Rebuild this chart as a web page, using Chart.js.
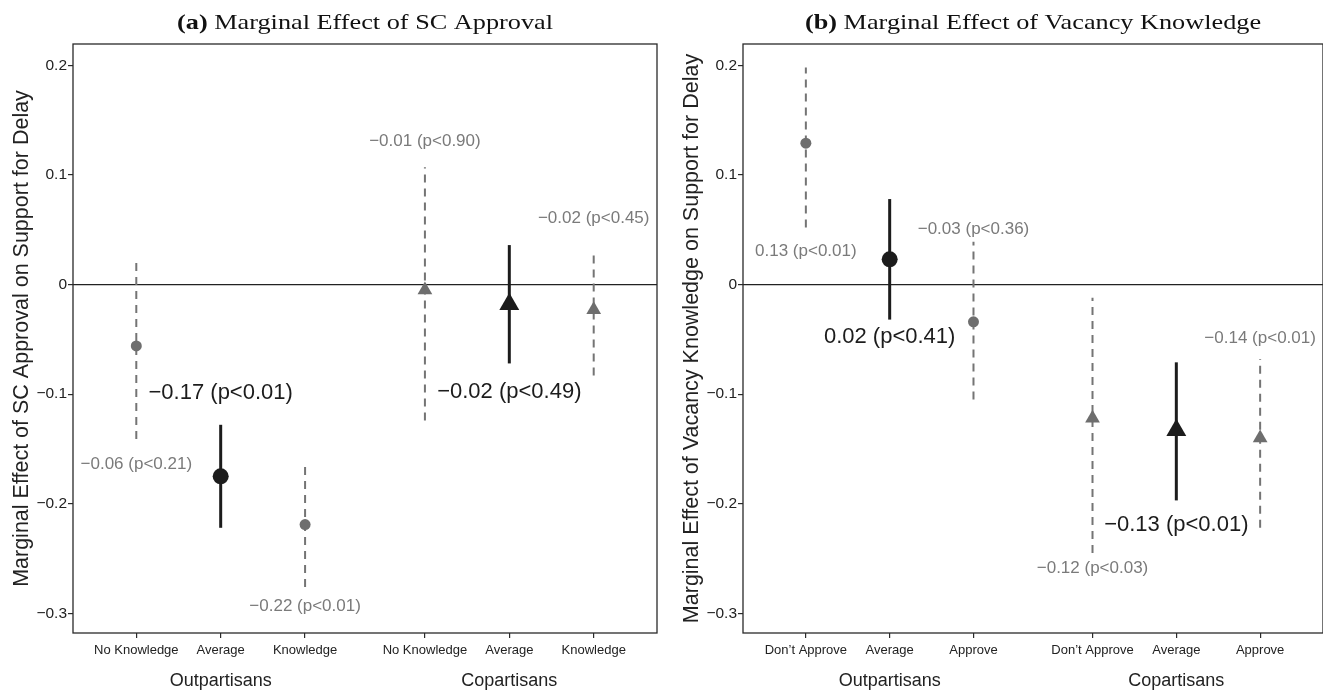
<!DOCTYPE html>
<html>
<head>
<meta charset="utf-8">
<script src="https://cdn.jsdelivr.net/npm/chart.js@4.4.1/dist/chart.umd.min.js"></script>
<style>
  html, body { margin: 0; padding: 0; background: #fff; }
  #wrapA { position: absolute; left: 0; top: 0; width: 660px; height: 699px; }
  #wrapB { position: absolute; left: 660px; top: 0; width: 663px; height: 699px; }
</style>
</head>
<body>
<div id="wrapA"><canvas id="chartA"></canvas></div>
<div id="wrapB"><canvas id="chartB"></canvas></div>
<script>
const groups = ['Outpartisans', 'Copartisans'];
const yTickValues = [-0.3, -0.2, -0.1, 0, 0.1, 0.2];

// (a) marginal effect of SC approval
const categoriesA = ['No Knowledge', 'Average', 'Knowledge', 'No Knowledge', 'Average', 'Knowledge'];
const estimateA = [-0.056, -0.175, -0.219, -0.005, -0.018, -0.023];
const lowerA = [-0.141, -0.222, -0.276, -0.124, -0.072, -0.083];
const upperA = [0.020, -0.128, -0.164, 0.107, 0.036, 0.027];
const notesA = ['−0.06 (p<0.21)', '−0.17 (p<0.01)', '−0.22 (p<0.01)', '−0.01 (p<0.90)', '−0.02 (p<0.49)', '−0.02 (p<0.45)'];
// where each note sits, in y units
const noteAtA = [-0.164, -0.099, -0.294, 0.131, -0.098, 0.060];

// (b) marginal effect of vacancy knowledge
const categoriesB = ['Don’t Approve', 'Average', 'Approve', 'Don’t Approve', 'Average', 'Approve'];
const estimateB = [0.129, 0.023, -0.034, -0.122, -0.133, -0.140];
const lowerB = [0.052, -0.032, -0.105, -0.245, -0.197, -0.222];
const upperB = [0.198, 0.078, 0.039, -0.012, -0.071, -0.068];
const notesB = ['0.13 (p<0.01)', '0.02 (p<0.41)', '−0.03 (p<0.36)', '−0.12 (p<0.03)', '−0.13 (p<0.01)', '−0.14 (p<0.01)'];
const noteAtB = [0.030, -0.048, 0.050, -0.259, -0.219, -0.049];

const SANS = "'Liberation Sans', Arial, Helvetica, sans-serif";
const SERIF = "'Liberation Serif', 'Times New Roman', serif";
const GRAY = '#747474';
const DARK = '#1c1c1c';
const AXIS = '#2a2a2a';
const GROUP_GAP = 0.42;

Chart.defaults.font.family = SANS;

const xPos = (i) => i + 1 + (i >= 3 ? GROUP_GAP : 0);
const isAverage = (i) => i % 3 === 1;

function fmt(v) {
  if (Math.abs(v) < 1e-9) return '0';
  return (v < 0 ? '−' : '') + Math.abs(v).toFixed(1);
}

function buildDatasets(est, lo, hi) {
  const out = [];
  est.forEach((v, i) => {
    const avg = isAverage(i);
    const x = xPos(i);
    out.push({
      type: 'line',
      data: [{ x: x, y: lo[i] }, { x: x, y: hi[i] }],
      borderColor: avg ? DARK : GRAY,
      borderWidth: avg ? 3 : 2,
      borderDash: avg ? [] : [8, 6],
      pointRadius: 0,
      order: 2,
    });
    const tri = i >= 3;
    out.push({
      type: 'scatter',
      data: [{ x: x, y: v }],
      pointStyle: tri ? 'triangle' : 'circle',
      pointRadius: tri ? (avg ? 11.5 : 8.5) : (avg ? 8 : 5.5),
      backgroundColor: avg ? DARK : '#6e6e6e',
      borderWidth: 0,
      order: 1,
    });
  });
  return out;
}

const frame = {
  id: 'frame',
  beforeDatasetsDraw(chart) {
    const { ctx, chartArea: a } = chart;
    ctx.save();
    ctx.strokeStyle = AXIS;
    ctx.lineWidth = 1.3;
    ctx.strokeRect(a.left, a.top, a.right - a.left, a.bottom - a.top);
    ctx.restore();
  },
};

const panelTitle = {
  id: 'panelTitle',
  afterDraw(chart, args, o) {
    const { ctx, chartArea: a } = chart;
    ctx.save();
    ctx.translate((a.left + a.right) / 2, 29);
    ctx.scale(1.25, 1);
    ctx.fillStyle = '#111';
    ctx.textBaseline = 'alphabetic';
    ctx.textAlign = 'left';
    ctx.font = 'bold 21px ' + SERIF;
    const w1 = ctx.measureText(o.tag).width;
    ctx.font = '21px ' + SERIF;
    const w2 = ctx.measureText(o.text).width;
    const x0 = -(w1 + w2) / 2;
    ctx.font = 'bold 21px ' + SERIF;
    ctx.fillText(o.tag, x0, 0);
    ctx.font = '21px ' + SERIF;
    ctx.fillText(o.text, x0 + w1, 0);
    ctx.restore();
  },
};

const notes = {
  id: 'notes',
  afterDatasetsDraw(chart, args, o) {
    const { ctx, scales } = chart;
    ctx.save();
    ctx.textAlign = 'center';
    ctx.textBaseline = 'middle';
    o.texts.forEach((t, i) => {
      const avg = isAverage(i);
      ctx.font = (avg ? '22px ' : '17px ') + SANS;
      ctx.fillStyle = avg ? DARK : '#7a7a7a';
      ctx.fillText(t, scales.x.getPixelForValue(xPos(i)), scales.y.getPixelForValue(o.at[i]));
    });
    ctx.restore();
  },
};

function makeChart(id, cfg) {
  const xMin = 0.25, xMax = 7.17;
  return new Chart(document.getElementById(id), {
    data: { datasets: buildDatasets(cfg.est, cfg.lo, cfg.hi) },
    plugins: [frame, panelTitle, notes],
    options: {
      responsive: true,
      maintainAspectRatio: false,
      animation: false,
      events: [],
      layout: {
        autoPadding: false,
        padding: { top: 44, right: cfg.padRight, left: 0, bottom: 0 },
      },
      plugins: {
        legend: { display: false },
        tooltip: { enabled: false },
        panelTitle: { tag: cfg.tag, text: cfg.title },
        notes: { texts: cfg.notes, at: cfg.noteAt },
      },
      scales: {
        x: {
          type: 'linear',
          position: 'bottom',
          weight: 0,
          min: xMin,
          max: xMax,
          afterBuildTicks: (s) => { s.ticks = cfg.cats.map((c, i) => ({ value: xPos(i) })); },
          afterFit: (s) => { s.height = 30; },
          ticks: {
            callback: (v, i) => cfg.cats[i],
            font: { size: 13 },
            color: '#222',
            padding: 5,
            maxRotation: 0,
            autoSkip: false,
          },
          grid: { drawOnChartArea: false, drawTicks: true, tickLength: 5, color: AXIS, lineWidth: 1.2 },
          border: { display: false },
        },
        x2: {
          type: 'linear',
          position: 'bottom',
          weight: 1,
          min: xMin,
          max: xMax,
          afterBuildTicks: (s) => { s.ticks = groups.map((g, k) => ({ value: xPos(3 * k + 1) })); },
          afterFit: (s) => { s.height = 36; },
          ticks: {
            callback: (v, i) => groups[i],
            font: { size: 18 },
            color: '#222',
            padding: 7,
            maxRotation: 0,
            autoSkip: false,
          },
          grid: { display: false, drawTicks: false },
          border: { display: false },
        },
        y: {
          type: 'linear',
          min: -0.318,
          max: 0.2195,
          afterBuildTicks: (s) => { s.ticks = yTickValues.map((v) => ({ value: v })); },
          afterFit: (s) => { s.width = cfg.yWidth; },
          ticks: {
            callback: (v) => fmt(v),
            font: { size: 15.5 },
            color: '#222',
            padding: 1,
          },
          grid: {
            color: (c) => (c.tick && Math.abs(c.tick.value) < 1e-9 ? '#222' : 'rgba(0,0,0,0)'),
            tickColor: AXIS,
            tickLength: 5,
            lineWidth: 1.2,
          },
          border: { display: false },
          title: {
            display: true,
            text: cfg.yTitle,
            font: { size: 21.5 },
            color: '#222',
            padding: { top: cfg.titlePad, bottom: 0 },
          },
        },
      },
    },
  });
}

makeChart('chartA', {
  cats: categoriesA, est: estimateA, lo: lowerA, hi: upperA,
  notes: notesA, noteAt: noteAtA,
  tag: '(a)', title: ' Marginal Effect of SC Approval',
  yTitle: 'Marginal Effect of SC Approval on Support for Delay',
  yWidth: 73, padRight: 3, titlePad: 9,
});

makeChart('chartB', {
  cats: categoriesB, est: estimateB, lo: lowerB, hi: upperB,
  notes: notesB, noteAt: noteAtB,
  tag: '(b)', title: ' Marginal Effect of Vacancy Knowledge',
  yTitle: 'Marginal Effect of Vacancy Knowledge on Support for Delay',
  yWidth: 83, padRight: 0, titlePad: 19,
});
</script>
</body>
</html>
